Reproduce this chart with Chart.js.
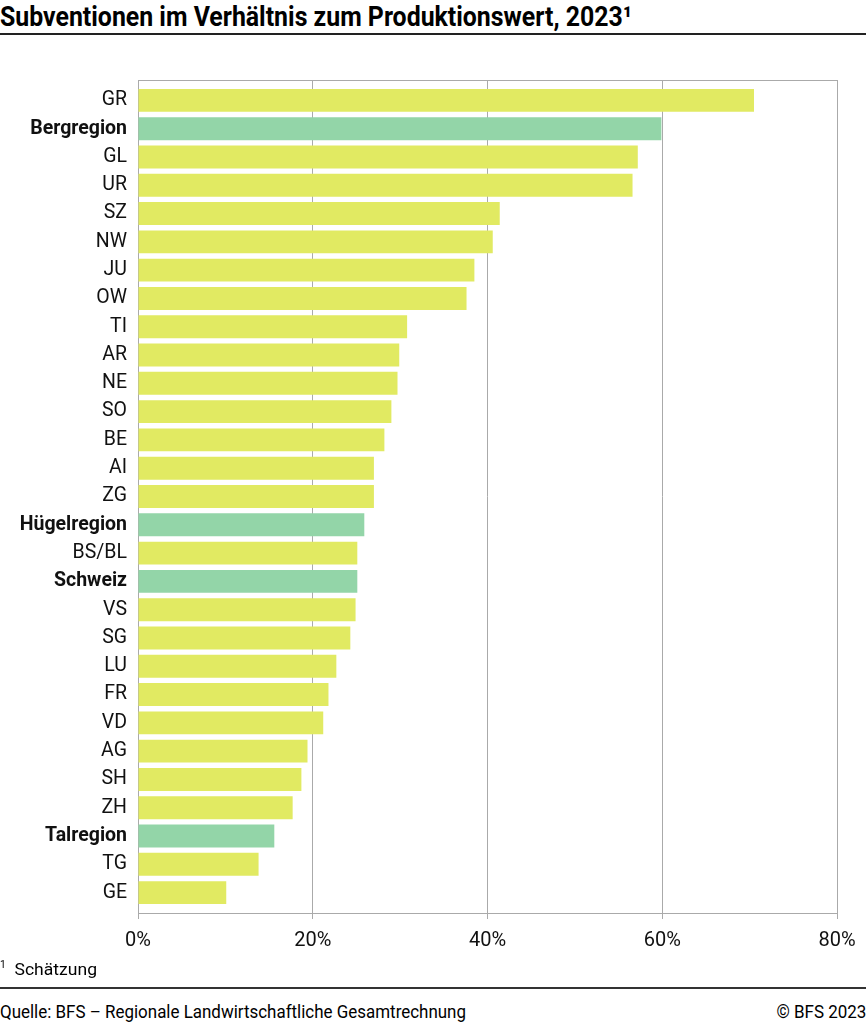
<!DOCTYPE html>
<html>
<head>
<meta charset="utf-8">
<script src="https://cdn.jsdelivr.net/npm/chart.js@4.4.1/dist/chart.umd.min.js"></script>
<style>
  body { margin: 0; width: 866px; height: 1024px; background: #fff; font-family: Roboto, sans-serif; color: #000; position: relative; overflow: hidden; }
  .fit { position: absolute; white-space: nowrap; transform-origin: left top; }
  #title { left: 0; top: 0px; font-size: 28px; font-weight: bold; }
  #titleLine { position: absolute; left: 0; top: 33px; width: 866px; height: 2px; background: #222; }
  #wrap { position: absolute; left: 0; top: 70px; width: 866px; height: 890px; }
  #note { left: 0; top: 959px; font-size: 17px; }
  #footLine { position: absolute; left: 0; top: 987px; width: 866px; height: 1.5px; background: #333; }
  #source { left: 0; top: 1001px; font-size: 18px; }
  #copy { right: 0; top: 1001px; font-size: 18px; position: absolute; white-space: nowrap; transform-origin: right top; }
</style>
</head>
<body>
<div id="title" class="fit" data-w="632">Subventionen im Verhältnis zum Produktionswert, 2023¹</div>
<div id="titleLine"></div>
<div id="wrap"><canvas id="myChart"></canvas></div>
<div id="note" class="fit" data-w="97"><sup style="font-size:10px">1</sup>&nbsp;&nbsp;Schätzung</div>
<div id="footLine"></div>
<div id="source" class="fit" data-w="466">Quelle: BFS – Regionale Landwirtschaftliche Gesamtrechnung</div>
<div id="copy" data-w="90">© BFS 2023</div>
<script>
// squeeze html text to the widths seen in the picture (condensed font not installed)
document.querySelectorAll('[data-w]').forEach(function (el) {
  let w = el.getBoundingClientRect().width
  el.style.transform = 'scaleX(' + (el.dataset.w / w) + ')'
})

let categories = ["GR","Bergregion","GL","UR","SZ","NW","JU","OW","TI","AR","NE","SO","BE","AI","ZG",
  "Hügelregion","BS/BL","Schweiz","VS","SG","LU","FR","VD","AG","SH","ZH","Talregion","TG","GE"]
let values = [70.5,59.9,57.2,56.6,41.4,40.6,38.5,37.6,30.8,29.9,29.7,29.0,28.2,27.0,27.0,
  25.9,25.1,25.1,24.9,24.3,22.7,21.8,21.2,19.4,18.7,17.7,15.6,13.8,10.1]
let regions = ["Bergregion","Hügelregion","Schweiz","Talregion"]
let xTicks = [0,20,40,60,80]

let cantonColor = "#e1ea62"
let regionColor = "#93d5a8"

const frame = {
  id: 'frame',
  afterDraw(chart) {
    let a = chart.chartArea, c = chart.ctx
    c.save()
    c.strokeStyle = '#aaa'
    c.lineWidth = 1
    c.beginPath()
    c.moveTo(a.left, a.top + 0.5); c.lineTo(a.right + 0.5, a.top + 0.5); c.lineTo(a.right + 0.5, a.bottom)
    c.stroke()
    c.restore()
  }
}

// y is a numeric index axis so that a little room is left above the first and below the last bar
new Chart(document.getElementById('myChart'), {
  type: 'bar',
  data: {
    datasets: [{
      data: values.map((v, i) => ({ x: v, y: i })),
      backgroundColor: categories.map(c => regions.includes(c) ? regionColor : cantonColor),
      borderWidth: 0,
      barPercentage: 0.81,
      categoryPercentage: 1
    }]
  },
  options: {
    indexAxis: 'y',
    responsive: true,
    maintainAspectRatio: false,
    animation: false,
    layout: { padding: { top: 10, right: 29, left: 0, bottom: 0 } },
    plugins: { legend: { display: false }, tooltip: { enabled: false } },
    scales: {
      x: {
        type: 'linear',
        min: 0, max: 80,
        afterBuildTicks: s => { s.ticks = xTicks.map(v => ({ value: v })) },
        grid: { color: '#aaa', lineWidth: 1, tickLength: 6, drawOnChartArea: true },
        border: { color: '#aaa', width: 1 },
        ticks: { color: '#111', font: { family: 'Roboto', size: 20 }, padding: 10, callback: v => v + '%' },
        afterFit: s => { s.height = 47; s.paddingLeft = 0; s.paddingRight = 0 }
      },
      y: {
        type: 'linear',
        reverse: true,
        offset: false,
        min: -0.72, max: categories.length - 0.28,
        afterBuildTicks: s => { s.ticks = categories.map((c, i) => ({ value: i })) },
        grid: { display: false },
        border: { color: '#aaa', width: 1 },
        ticks: {
          color: '#111', padding: 3, autoSkip: false,
          callback: v => categories[v],
          font: ctx => ({ family: 'Roboto', size: 19.5, weight: regions.includes(categories[ctx.index]) ? 'bold' : 'normal' })
        },
        afterFit: s => { s.width = 138; s.paddingTop = 0; s.paddingBottom = 0 }
      }
    }
  },
  plugins: [frame]
})
</script>
</body>
</html>
